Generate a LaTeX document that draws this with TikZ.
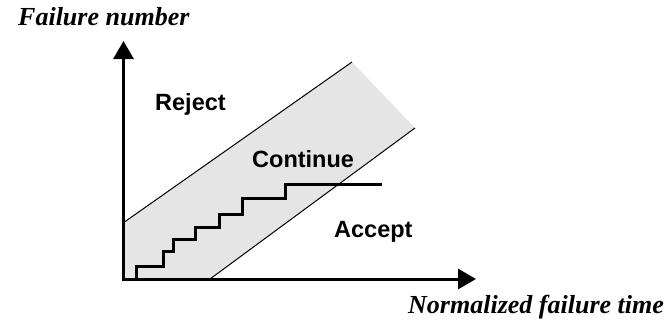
\documentclass[tikz,border=0pt]{standalone}
\usepackage{fontspec}
\setmainfont{Liberation Serif}
\setsansfont{Liberation Sans}
\usetikzlibrary{arrows.meta}
\tikzset{
  axis/.style={line width=3pt,-{Triangle[length=18pt,width=20pt]}},
  bound/.style={line width=1pt},
  stair/.style={line width=3pt,line join=miter},
  region/.style={font=\sffamily\bfseries\fontsize{23.5}{28}\selectfont,anchor=base west,inner sep=0pt},
  axtitle/.style={font=\bfseries\itshape\fontsize{26}{30}\selectfont,anchor=base west,inner sep=0pt}
}
\begin{document}
\begin{tikzpicture}[x=1pt,y=-1pt]
\useasboundingbox (0,0) rectangle (667,325);
% band
\coordinate (ul) at (123,223);
\coordinate (ur) at (352,62);
\coordinate (lr) at (415,128);
\coordinate (ll) at (210,279);
\coordinate (o) at (123,279);
\fill[gray!20] (ul) -- (ur) -- (lr) -- (ll) -- (o) -- cycle;
\draw[bound] (ul) -- (ur);
\draw[bound] (ll) -- (lr);
% staircase
\draw[stair] (136,279) -- (136,266) -- (163,266) -- (163,251) -- (173,251) -- (173,239)
  -- (195,239) -- (195,227) -- (219,227) -- (219,214) -- (242,214) -- (242,198)
  -- (285,198) -- (285,184) -- (382,184);
% axes
\coordinate (ytip) at (123.5,41);
\coordinate (xtip) at (476,279);
\coordinate (ybase) at (123.5,280.5);
\coordinate (xbase) at (122,279);
\draw[axis] (ybase) -- (ytip);
\draw[axis] (xbase) -- (xtip);
% labels
\node[axtitle] (fn) at (18,25) {Failure number};
\node[axtitle] (nft) at (408,313) {Normalized failure time};
\node[region] (rej) at (155,110) {Reject};
\node[region] (con) at (252,167) {Continue};
\node[region] (acc) at (334,237) {Accept};
\end{tikzpicture}
\end{document}
